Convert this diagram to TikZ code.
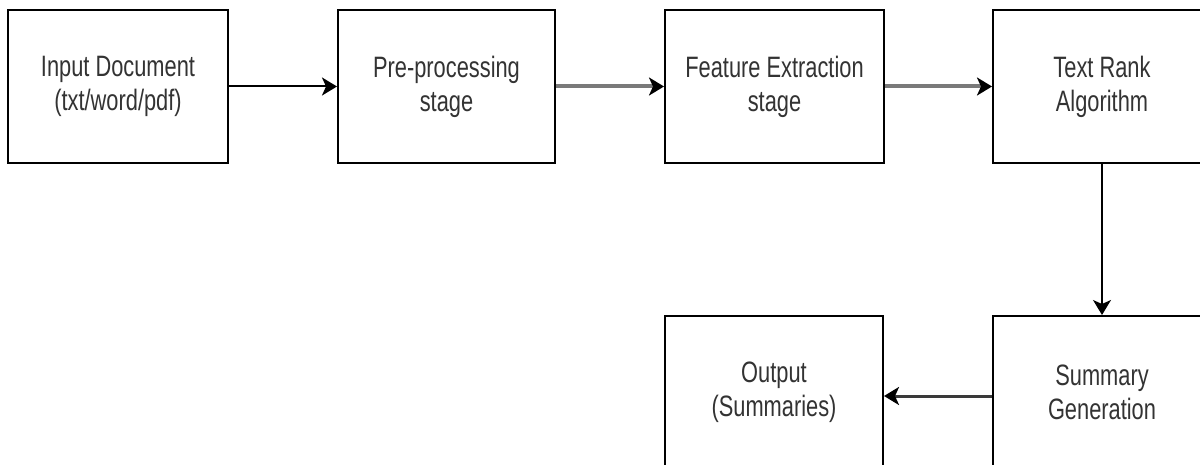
\documentclass[tikz,border=0pt]{standalone}
\usepackage{fontspec}
\setmainfont{Liberation Sans}[FakeStretch=0.74]
\usetikzlibrary{arrows.meta}
\definecolor{txtcol}{HTML}{333333}
\definecolor{greyline}{HTML}{7A7A7A}
\definecolor{darkline}{HTML}{3A3A3A}
\tikzset{
  headtip/.style={-{Stealth[length=15pt,width=18pt,inset=4pt,color=black]}},
  stagebox/.style={draw=black, line width=2pt, fill=white, minimum height=153pt,
    align=center, text=txtcol, font=\fontsize{29.5pt}{34pt}\selectfont, inner sep=0pt},
  thinarrow/.style={headtip, draw=black, line width=2pt},
  vertarrow/.style={headtip, draw=black, line width=1.5pt},
  greyarrow/.style={headtip, draw=greyline, line width=4pt},
  darkarrow/.style={headtip, draw=darkline, line width=3pt}
}
\begin{document}
\begin{tikzpicture}[x=1pt,y=-1pt]
\useasboundingbox (0,0) rectangle (1200,465);
\fill[white] (0,0) rectangle (1200,465);
\clip (0,0) rectangle (1200,465);
\node[stagebox, minimum width=220pt] (b1) at (118,86.5) {Input Document\\(txt/word/pdf)};
\node[stagebox, minimum width=217pt] (b2) at (446.5,86.5) {Pre-processing\\stage};
\node[stagebox, minimum width=219pt] (b3) at (774.5,86.5) {Feature Extraction\\stage};
\node[stagebox, minimum width=218pt] (b4) at (1102,86.5) {Text Rank\\Algorithm};
\node[stagebox, minimum width=218pt] (b5) at (1102,392.5) {Summary\\Generation};
\node[stagebox, minimum width=218pt] (b6) at (774,392.5) {Output\\(Summaries)};
\draw[thinarrow] (b1.east) -- (b2.west);
\draw[greyarrow] (b2.east) -- (b3.west);
\draw[greyarrow] (b3.east) -- (b4.west);
\draw[vertarrow] (b4.south) -- (b5.north);
\draw[darkarrow] ([yshift=-3.5pt]b5.west) -- ([yshift=-3.5pt]b6.east);
\end{tikzpicture}
\end{document}
